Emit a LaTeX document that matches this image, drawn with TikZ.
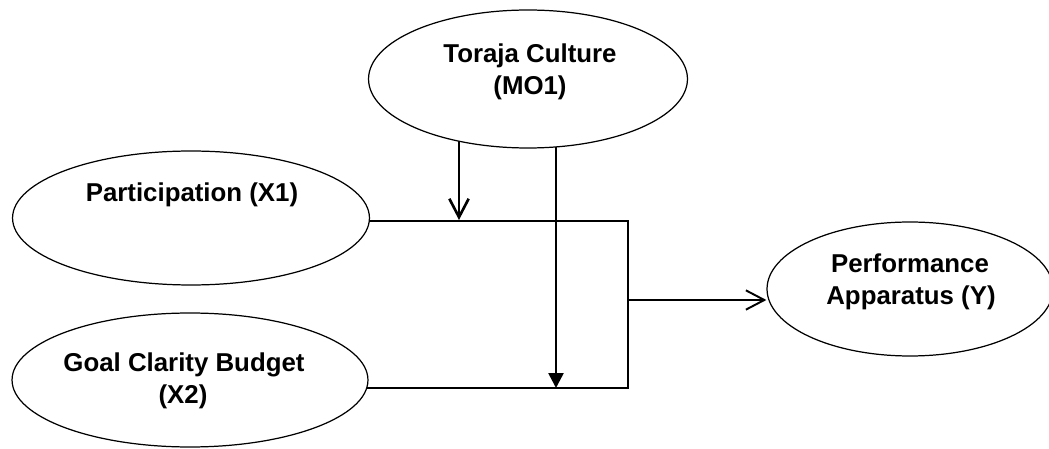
\documentclass[tikz,border=0pt]{standalone}
\usepackage{fontspec}
\setmainfont{Liberation Sans}
\usetikzlibrary{shapes.geometric,arrows.meta,backgrounds}
\begin{document}
\begin{tikzpicture}[x=0.02cm,y=-0.02cm,
  var/.style={draw,ellipse,fill=white,line width=0.7pt,inner sep=0pt},
  lbl/.style={anchor=base,inner sep=0pt,font=\fontsize{14.7}{18}\selectfont\bfseries},
  conn/.style={line width=1.1pt,line join=miter},
  shaft/.style={line width=1.5pt},
  barb/.style={-{Straight Barb[length=10.5pt,width=11pt]}},
  tri/.style={-{Triangle[length=8.5pt,width=8.5pt]}}]
\useasboundingbox (0,0) rectangle (1049,449);
% variables
\node[var,minimum width=6.38cm,minimum height=2.76cm] (mo) at (528,79) {};
\node[var,minimum width=7.14cm,minimum height=2.68cm] (x1) at (191,218) {};
\node[var,minimum width=7.12cm,minimum height=2.68cm] (x2) at (190,380) {};
\node[var,minimum width=5.72cm,minimum height=2.68cm] (y) at (910,289) {};
% labels
\node[lbl] (moA) at (530,63) {Toraja Culture};
\node[lbl] (moB) at (530,95) {(MO1)};
\node[lbl] (x1A) at (192,202) {Participation (X1)};
\node[lbl] (x2A) at (184,372) {Goal Clarity Budget};
\node[lbl] (x2B) at (183,404) {(X2)};
\node[lbl] (yA) at (910,273) {Performance};
\node[lbl] (yB) at (911,305) {Apparatus (Y)};
% junction points
\coordinate (j1) at (628,221);
\coordinate (j2) at (628,388);
\coordinate (jm) at (628,300);
\coordinate (a1) at (459,220);
\coordinate (a2) at (556,388);
\begin{scope}[on background layer]
  \draw[conn] (x1.center |- j1) -- (j1) -- (j2) -- (x2.center |- j2);
  \draw[shaft,barb] (a1 |- mo.center) -- (a1);
  \draw[shaft,tri] (a2 |- mo.center) -- (a2);
\end{scope}
\draw[conn,barb] (jm) -- (y.west |- jm);
\end{tikzpicture}
\end{document}
